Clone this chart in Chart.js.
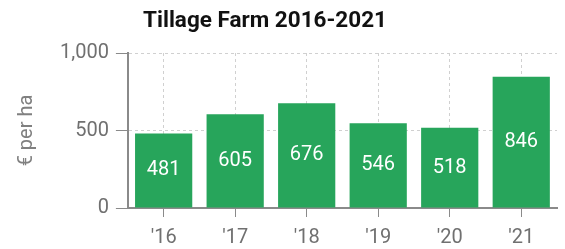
<!DOCTYPE html>
<html>
<head>
<meta charset="utf-8">
<script src="https://cdn.jsdelivr.net/npm/chart.js@4"></script>
<style>
html,body{margin:0;padding:0;background:#fff;}
#wrap{position:relative;width:565px;height:249px;}
#title{position:absolute;left:0;top:6px;width:530px;text-align:center;font-family:Roboto,sans-serif;font-weight:bold;font-size:22.5px;color:#111;}
canvas{position:absolute;left:0;top:0;}
</style>
</head>
<body>
<div id="wrap">
<canvas id="c" width="565" height="249"></canvas>
<div id="title">Tillage Farm 2016-2021</div>
</div>
<script>
const categories = ["'16", "'17", "'18", "'19", "'20", "'21"];
const values = [481, 605, 676, 546, 518, 846];
const yTicks = [0, 500, 1000];
const chartTitle = "Tillage Farm 2016-2021";
const yTitle = "€ per ha";

const barLabels = {
  id: 'barLabels',
  afterDatasetsDraw(chart) {
    const ctx = chart.ctx;
    const meta = chart.getDatasetMeta(0);
    ctx.save();
    ctx.fillStyle = '#ffffff';
    ctx.font = '20px Roboto';
    ctx.textAlign = 'center';
    ctx.textBaseline = 'middle';
    meta.data.forEach((bar, i) => {
      const p = bar.getProps(['x', 'y', 'base'], true);
      ctx.fillText(String(values[i]), p.x, (p.y + p.base) / 2);
    });
    ctx.restore();
  }
};

new Chart(document.getElementById('c'), {
  type: 'bar',
  data: {
    labels: categories,
    datasets: [{
      data: values,
      backgroundColor: '#27a55b',
      barPercentage: 0.8,
      categoryPercentage: 1.0
    }]
  },
  options: {
    responsive: false,
    animation: false,
    devicePixelRatio: 1,
    layout: { padding: { top: 53, right: 8, left: 7, bottom: -10 } },
    plugins: { legend: { display: false }, tooltip: { enabled: false }, title: { display: false } },
    scales: {
      x: {
        grid: {
          offset: false,
          color: '#d0d0d0',
          tickColor: '#8a8a8a',
          tickBorderDash: [],
          tickLength: 9,
          lineWidth: 1
        },
        border: { color: '#8a8a8a', width: 2, dash: [3, 3] },
        ticks: { color: '#707070', font: { family: 'Roboto', size: 20 }, padding: 9 }
      },
      y: {
        min: 0, max: 1000,
        afterBuildTicks(axis) { axis.ticks = yTicks.map(v => ({ value: v })); },
        grid: {
          color: '#d0d0d0',
          tickColor: '#8a8a8a',
          tickBorderDash: [],
          tickLength: 12,
          lineWidth: 1
        },
        border: { color: '#8a8a8a', width: 2, dash: [3, 3] },
        ticks: {
          color: '#707070', font: { family: 'Roboto', size: 20 }, padding: 7,
          callback: v => v.toLocaleString('en-US')
        },
        title: { display: true, text: yTitle, color: '#808080', font: { family: 'Roboto', size: 20 }, padding: { top: 8, bottom: 14 } }
      }
    }
  },
  plugins: [barLabels]
});
</script>
</body>
</html>
